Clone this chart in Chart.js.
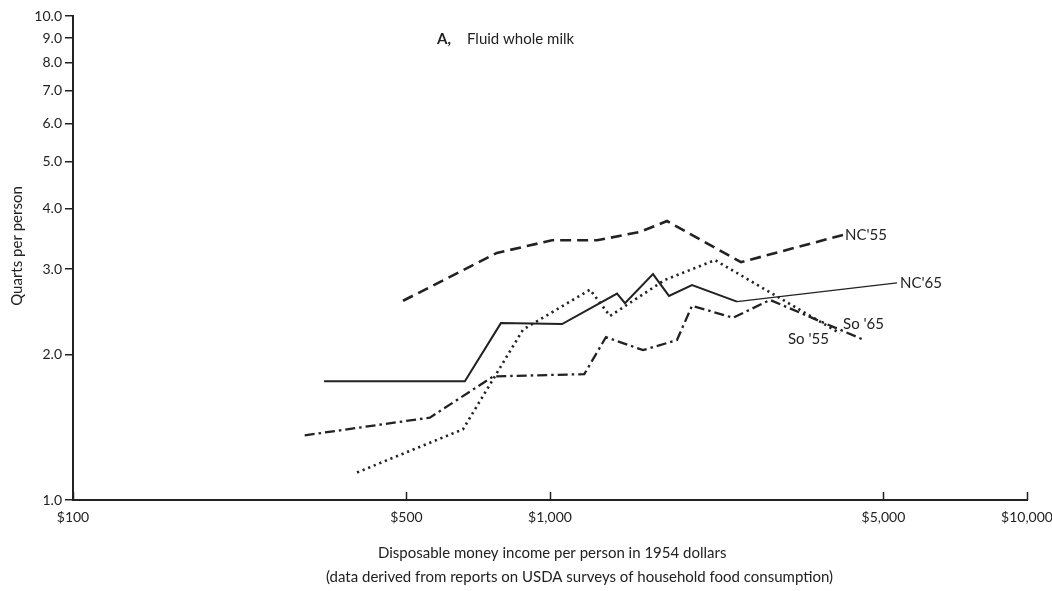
<!DOCTYPE html>
<html>
<head>
<meta charset="utf-8">
<title>Fluid whole milk</title>
<script src="https://cdn.jsdelivr.net/npm/chart.js"></script>
<style>
    html, body { margin: 0; padding: 0; background: #fff; }
    #milkChart { display: block; }
</style>
</head>
<body>
<canvas id="milkChart" width="1052" height="591"></canvas>
<script>
// income per person (1954 dollars) and quarts of milk per person, by survey
var incomeNC55 = [492, 774, 1010, 1255, 1544, 1759, 2515, 4115];
var quartsNC55 = [2.58, 3.24, 3.44, 3.44, 3.58, 3.77, 3.10, 3.53];

var incomeNC65 = [336, 663, 789, 1060, 1382, 1436, 1644, 1776, 1985, 2466, 5340];
var quartsNC65 = [1.76, 1.76, 2.32, 2.31, 2.67, 2.55, 2.93, 2.64, 2.78, 2.57, 2.81];

var incomeSo55 = [394, 657, 878, 1213, 1336, 1742, 2218, 4055];
var quartsSo55 = [1.14, 1.40, 2.25, 2.72, 2.40, 2.85, 3.13, 2.21];

var incomeSo65 = [306, 560, 760, 1180, 1310, 1567, 1846, 1985, 2419, 2893, 4510];
var quartsSo65 = [1.36, 1.48, 1.80, 1.82, 2.17, 2.04, 2.14, 2.52, 2.38, 2.59, 2.15];

var xTickValues = [100, 500, 1000, 5000, 10000];
var xTickLabels = ['$100', '$500', '$1,000', '$5,000', '$10,000'];
var yTickValues = [1, 2, 3, 4, 5, 6, 7, 8, 9, 10];

var ink = '#222222';
var face = 'Lato, "Noto Sans", sans-serif';

function toPoints(xs, ys) {
    return xs.map(function (x, i) {
        return { x: x, y: ys[i] };
    });
}

// names at the end of each line, upward x ticks and the titles
var annotations = {
    id: 'annotations',
    afterDraw: function (chart) {
        var ctx = chart.ctx;
        var xs = chart.scales.x;
        var ys = chart.scales.y;
        var area = chart.chartArea;

        ctx.save();
        ctx.strokeStyle = ink;
        ctx.lineWidth = 1.5;
        xTickValues.forEach(function (v) {
            var px = Math.round(xs.getPixelForValue(v)) + 0.5;
            ctx.beginPath();
            ctx.moveTo(px, area.bottom);
            ctx.lineTo(px, area.bottom - 8);
            ctx.stroke();
        });

        ctx.fillStyle = ink;
        ctx.textBaseline = 'middle';
        ctx.textAlign = 'left';
        chart.data.datasets.forEach(function (ds) {
            var last = ds.data[ds.data.length - 1];
            ctx.font = ds.labelFont;
            ctx.fillText(ds.label,
                xs.getPixelForValue(last.x) + ds.labelOffset[0],
                ys.getPixelForValue(last.y) + ds.labelOffset[1]);
        });

        ctx.font = 'bold 15px ' + face;
        ctx.fillText('A,', 437, 39);
        ctx.font = '15px ' + face;
        ctx.fillText('Fluid whole milk', 467, 39);

        ctx.font = '15px ' + face;
        ctx.fillText('Disposable money income per person in 1954 dollars', 378, 553);
        ctx.fillText('(data derived from reports on USDA surveys of household food consumption)', 326, 577);

        ctx.translate(17, 246);
        ctx.rotate(-Math.PI / 2);
        ctx.textAlign = 'center';
        ctx.fillText('Quarts per person', 0, 0);
        ctx.restore();
    }
};

var ctx = document.getElementById('milkChart').getContext('2d');
var milkChart = new Chart(ctx, {
    type: 'line',
    data: {
        datasets: [{
            label: "NC'55",
            data: toPoints(incomeNC55, quartsNC55),
            borderColor: ink,
            borderWidth: 2.6,
            borderDash: [11, 6],
            labelOffset: [2, 0],
            labelFont: '15px ' + face
        }, {
            label: "NC'65",
            data: toPoints(incomeNC65, quartsNC65),
            borderColor: ink,
            borderWidth: 2,
            segment: {
                borderWidth: function (c) { return c.p0DataIndex >= 9 ? 1.3 : 2; }
            },
            labelOffset: [3, 0],
            labelFont: '15px ' + face
        }, {
            label: "So '55",
            data: toPoints(incomeSo55, quartsSo55),
            borderColor: ink,
            borderWidth: 2.6,
            borderDash: [2.2, 3.8],
            labelOffset: [-52, 6],
            labelFont: '15px ' + face
        }, {
            label: "So '65",
            data: toPoints(incomeSo65, quartsSo65),
            borderColor: ink,
            borderWidth: 2.3,
            borderDash: [10, 4, 2.5, 4],
            labelOffset: [-19, -15],
            labelFont: '15px ' + face
        }]
    },
    options: {
        responsive: false,
        devicePixelRatio: 1,
        animation: false,
        layout: {
            padding: { left: 0, right: 25, top: 16, bottom: 0 }
        },
        elements: {
            point: { radius: 0 },
            line: { tension: 0, fill: false }
        },
        scales: {
            x: {
                type: 'logarithmic',
                min: 100,
                max: 10000,
                afterBuildTicks: function (scale) {
                    scale.ticks = xTickValues.map(function (v) { return { value: v }; });
                },
                afterFit: function (scale) {
                    scale.height = 91;
                    scale.paddingLeft = 0;
                    scale.paddingRight = 0;
                },
                border: { display: true, color: ink, width: 2 },
                grid: { display: false },
                ticks: {
                    autoSkip: false,
                    maxRotation: 0,
                    padding: 1,
                    color: ink,
                    font: { family: face, size: 14 },
                    callback: function (value, index) { return xTickLabels[index]; }
                }
            },
            y: {
                type: 'logarithmic',
                min: 1,
                max: 10,
                afterBuildTicks: function (scale) {
                    scale.ticks = yTickValues.map(function (v) { return { value: v }; });
                },
                afterFit: function (scale) {
                    scale.width = 73;
                    scale.paddingTop = 0;
                    scale.paddingBottom = 0;
                },
                border: { display: true, color: ink, width: 2 },
                grid: {
                    drawOnChartArea: false,
                    drawTicks: true,
                    tickLength: 8,
                    color: ink,
                    lineWidth: 1.5
                },
                ticks: {
                    autoSkip: false,
                    padding: 3,
                    color: ink,
                    font: { family: face, size: 14 },
                    callback: function (value) { return Number(value).toFixed(1); }
                }
            }
        },
        plugins: {
            legend: { display: false },
            tooltip: { enabled: false }
        }
    },
    plugins: [annotations]
});
</script>
</body>
</html>
